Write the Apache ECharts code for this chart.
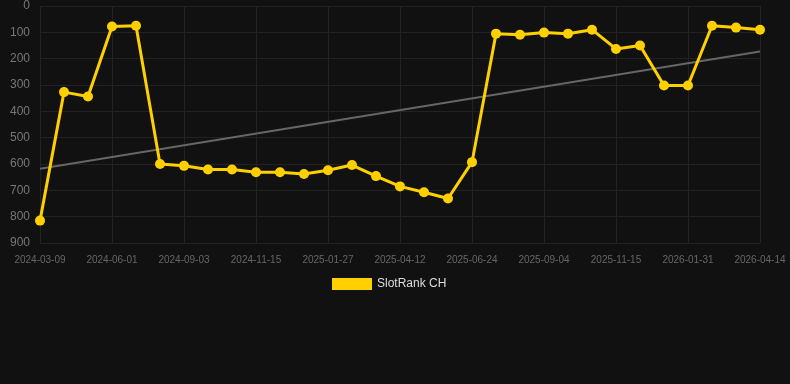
<!DOCTYPE html>
<html lang="en">
<head>
  <meta charset="UTF-8">
  <title>SlotRank CH</title>
  <script src="https://cdn.jsdelivr.net/npm/echarts@6/dist/echarts.min.js"></script>
  <style>
    html, body { margin: 0; padding: 0; background: #111111; }
  </style>
</head>
<body>
  <div id="main" style="width: 790px;height:384px;"></div>
  <script>
    // dates on the x axis (category)
    var dates = [
      '2024-03-09', '2024-04-06', '2024-05-04', '2024-06-01', '2024-07-02', '2024-08-02',
      '2024-09-03', '2024-09-27', '2024-10-21', '2024-11-15', '2024-12-09', '2025-01-02',
      '2025-01-27', '2025-02-21', '2025-03-18', '2025-04-12', '2025-05-06', '2025-05-30',
      '2025-06-24', '2025-07-18', '2025-08-11', '2025-09-04', '2025-09-28', '2025-10-22',
      '2025-11-15', '2025-12-10', '2026-01-05', '2026-01-31', '2026-02-24', '2026-03-20',
      '2026-04-14'
    ];
    // rank values (lower is better, axis inverted)
    var rank = [
      815, 327, 344, 78, 75, 600,
      607, 621, 621, 631, 631, 638,
      624, 604, 646, 685, 707, 731,
      593, 105, 109, 101, 105, 90,
      163, 150, 302, 302, 75, 82,
      90
    ];
    // trend line ends
    var trendStart = 618;
    var trendEnd = 173;

    var myChart = echarts.init(document.getElementById('main'));
    var font = 'Liberation Sans, Arial, sans-serif';

    var option = {
      backgroundColor: '#111111',
      animation: false,
      grid: { left: 40, right: 30, top: 6, height: 237 },
      legend: {
        data: ['SlotRank CH'],
        top: 278,
        left: 332,
        padding: 0,
        icon: 'rect',
        itemWidth: 40,
        itemHeight: 12,
        itemGap: 6,
        textStyle: { color: '#dddddd', fontSize: 12, fontFamily: font }
      },
      xAxis: {
        type: 'category',
        data: dates,
        boundaryGap: false,
        axisLine: { show: false },
        axisTick: { show: false },
        axisLabel: { interval: 2, color: '#666666', fontSize: 10, fontFamily: font, margin: 12 },
        splitLine: { show: true, interval: 2, lineStyle: { color: '#222222', width: 1 } }
      },
      yAxis: {
        type: 'value',
        inverse: true,
        min: 0,
        max: 900,
        interval: 100,
        axisLine: { show: false },
        axisTick: { show: false },
        axisLabel: { color: '#777777', fontSize: 12, fontFamily: font, margin: 10 },
        splitLine: { lineStyle: { color: '#222222', width: 1 } }
      },
      series: [
        {
          name: 'SlotRank CH',
          type: 'line',
          data: rank,
          color: '#ffd000',
          symbol: 'circle',
          symbolSize: 10,
          lineStyle: { width: 3, color: '#ffd000' },
          itemStyle: { color: '#ffd000' },
          z: 3
        },
        {
          name: 'trend',
          type: 'line',
          data: [[dates[0], trendStart], [dates[dates.length - 1], trendEnd]],
          symbol: 'none',
          lineStyle: { width: 2, color: '#666666' },
          z: 2
        }
      ]
    };

    myChart.setOption(option);
  </script>
</body>
</html>
